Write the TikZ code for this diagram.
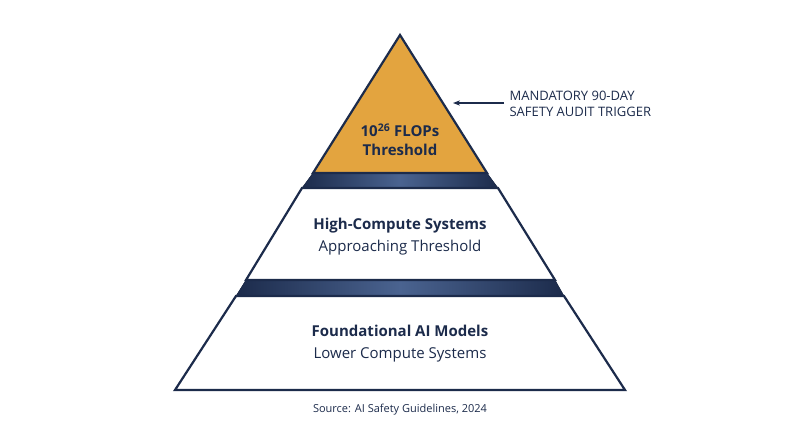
\documentclass[tikz,border=0pt]{standalone}
\usepackage{fontspec}
\setmainfont{Open Sans}
\usetikzlibrary{positioning,arrows.meta}
\definecolor{navy}{HTML}{1C2B4B}
\definecolor{gold}{HTML}{E3A43F}
\definecolor{bandmid}{HTML}{4A6390}

\begin{document}
\begin{tikzpicture}[x=1pt,y=-1pt]

\tikzset{tier/.style={draw=navy,line width=2.2pt,line join=miter},
band/.style={left color=navy,right color=navy,middle color=bandmid,draw=navy},
title/.style={font=\fontsize{15}{17}\selectfont\bfseries,text=navy},
sub/.style={font=\fontsize{15}{17}\selectfont,text=navy},
note/.style={font=\fontsize{13}{16}\selectfont,text=navy,align=left}}

\useasboundingbox (0,0) rectangle (800,447);

% Bands
\fill[band] (313,173) -- (487,173) -- (498,188) -- (302,188) -- cycle;
\fill[band] (246,280) -- (555,280) -- (564,296) -- (236,296) -- cycle;

% Tiers
\draw[tier,fill=gold] (400,35) -- (487,173) -- (313,173) -- cycle;
\draw[tier,fill=white] (302,188) -- (498,188) -- (555,280) -- (246,280) -- cycle;
\draw[tier,fill=white] (236,296) -- (564,296) -- (625,390) -- (175,390) -- cycle;

% Labels
\node[title] (topA) at (400,130) {10\textsuperscript{26} FLOPs};
\node[title] (topB) at (400,150) {Threshold};
\node[title] (midA) at (400,226) {High-Compute Systems};
\node[sub] (midB) at (400,248) {Approaching Threshold};
\node[title] (lowA) at (400,331) {Foundational AI Models};
\node[sub] (lowB) at (400,355) {Lower Compute Systems};

% Callout
\node[note,anchor=west] (audit) at (506,104) {MANDATORY 90-DAY\\SAFETY AUDIT TRIGGER};
\coordinate (tip) at (453,103);
\draw[navy,line width=1.2pt,-{Stealth[length=7pt]}] (audit.west|-tip) ++(-2,0) -- (tip);

\node[font=\fontsize{11}{13}\selectfont,text=navy] (source) at (400,410) {Source: AI Safety Guidelines, 2024};

\end{tikzpicture}
\end{document}
